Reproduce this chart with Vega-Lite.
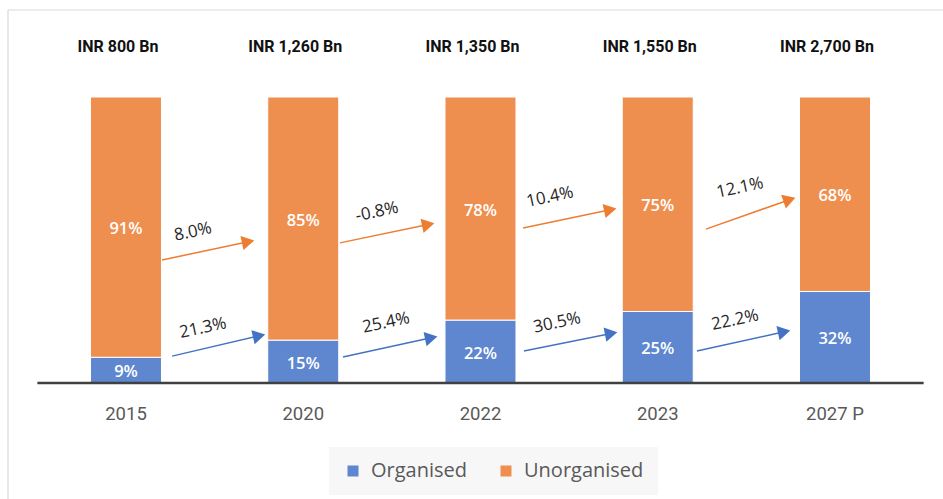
{
  "$schema": "https://vega.github.io/schema/vega-lite/v6.json",
  "width": 935,
  "height": 489,
  "autosize": {"type": "none"},
  "padding": {"left": 8, "top": 10, "right": 0, "bottom": 0},
  "background": "white",
  "config": {"view": {"stroke": null}, "font": "Open Sans"},
  "datasets": {
    "bars": [
      {"year": "2015", "idx": 0, "segment": "Organised", "ord": 1, "share": 0.09, "label": "9%"},
      {"year": "2015", "idx": 0, "segment": "Unorganised", "ord": 2, "share": 0.91, "label": "91%"},
      {"year": "2020", "idx": 1, "segment": "Organised", "ord": 1, "share": 0.15, "label": "15%"},
      {"year": "2020", "idx": 1, "segment": "Unorganised", "ord": 2, "share": 0.85, "label": "85%"},
      {"year": "2022", "idx": 2, "segment": "Organised", "ord": 1, "share": 0.22, "label": "22%"},
      {"year": "2022", "idx": 2, "segment": "Unorganised", "ord": 2, "share": 0.78, "label": "78%"},
      {"year": "2023", "idx": 3, "segment": "Organised", "ord": 1, "share": 0.25, "label": "25%"},
      {"year": "2023", "idx": 3, "segment": "Unorganised", "ord": 2, "share": 0.75, "label": "75%"},
      {"year": "2027  P", "idx": 4, "segment": "Organised", "ord": 1, "share": 0.32, "label": "32%"},
      {"year": "2027  P", "idx": 4, "segment": "Unorganised", "ord": 2, "share": 0.68, "label": "68%"}
    ],
    "years": [
      {"idx": 0, "year": "2015", "total": "INR 800 Bn", "full": 1, "base": 0},
      {"idx": 1, "year": "2020", "total": "INR 1,260 Bn", "full": 1, "base": 0},
      {"idx": 2, "year": "2022", "total": "INR 1,350 Bn", "full": 1, "base": 0},
      {"idx": 3, "year": "2023", "total": "INR 1,550 Bn", "full": 1, "base": 0},
      {"idx": 4, "year": "2027  P", "total": "INR 2,700 Bn", "full": 1, "base": 0}
    ],
    "guides": [
      {"gx0": -0.5, "gx1": 4.5, "gy": 0, "fx": -0.6657, "fy": 1.3042}
    ],
    "arrows": [
      {"series": "Unorganised", "x0": 0.203, "y0": 0.430, "x1": 0.689, "y1": 0.494, "dir": -12, "growth": "8.0%", "lx": 0.378, "ly": 0.528},
      {"series": "Unorganised", "x0": 1.207, "y0": 0.490, "x1": 1.705, "y1": 0.554, "dir": -12, "growth": "-0.8%", "lx": 1.416, "ly": 0.598},
      {"series": "Unorganised", "x0": 2.240, "y0": 0.542, "x1": 2.732, "y1": 0.606, "dir": -12, "growth": "10.4%", "lx": 2.392, "ly": 0.650},
      {"series": "Unorganised", "x0": 3.272, "y0": 0.538, "x1": 3.743, "y1": 0.641, "dir": -19, "growth": "12.1%", "lx": 3.464, "ly": 0.682},
      {"series": "Organised", "x0": 0.260, "y0": 0.094, "x1": 0.751, "y1": 0.165, "dir": -13, "growth": "21.3%", "lx": 0.434, "ly": 0.192},
      {"series": "Organised", "x0": 1.224, "y0": 0.091, "x1": 1.722, "y1": 0.158, "dir": -12, "growth": "25.4%", "lx": 1.467, "ly": 0.210},
      {"series": "Organised", "x0": 2.245, "y0": 0.112, "x1": 2.737, "y1": 0.173, "dir": -11, "growth": "30.5%", "lx": 2.432, "ly": 0.210},
      {"series": "Organised", "x0": 3.221, "y0": 0.112, "x1": 3.713, "y1": 0.179, "dir": -12.5, "growth": "22.2%", "lx": 3.436, "ly": 0.220}
    ]
  },
  "layer": [
    {
      "data": {"name": "guides"},
      "mark": {"type": "rule", "color": "#d9d9d9", "strokeWidth": 1.2},
      "encoding": {
        "y": {"field": "fy", "type": "quantitative", "axis": null, "scale": {"domain": [-0.4056, 1.3042], "nice": false, "zero": false, "padding": 0}}
      }
    },
    {
      "data": {"name": "guides"},
      "mark": {"type": "rule", "color": "#d9d9d9", "strokeWidth": 1.2},
      "encoding": {
        "x": {"field": "fx", "type": "quantitative", "axis": null, "scale": {"domain": [-0.6657, 4.6093], "nice": false, "zero": false, "padding": 0}}
      }
    },
    {
      "data": {"name": "bars"},
      "mark": {"type": "bar", "size": 71, "stroke": "white", "strokeWidth": 1},
      "encoding": {
        "x": {"field": "idx", "type": "quantitative", "axis": null, "scale": {"domain": [-0.6657, 4.6093], "nice": false, "zero": false, "padding": 0}},
        "y": {"field": "share", "type": "quantitative", "stack": "zero", "axis": null, "scale": {"domain": [-0.4056, 1.3042], "nice": false, "zero": false, "padding": 0}},
        "order": {"field": "ord", "type": "quantitative"},
        "color": {
          "field": "segment", "type": "nominal",
          "scale": {"domain": ["Organised", "Unorganised"], "range": ["#5E87CF", "#EF8F4F"]},
          "legend": {
            "orient": "none", "legendX": 321, "legendY": 437, "direction": "horizontal", "title": null,
            "symbolType": "square", "symbolSize": 121, "symbolStrokeWidth": 0,
            "labelFontSize": 20, "labelColor": "#595959", "labelFont": "Open Sans",
            "fillColor": "#f7f7f7", "padding": 14, "columnPadding": 28, "labelOffset": 8
          }
        }
      }
    },
    {
      "data": {"name": "bars"},
      "transform": [
        {"stack": "share", "groupby": ["idx"], "sort": [{"field": "ord"}], "as": ["s0", "s1"]},
        {"fold": ["s0", "s1"], "as": ["k", "v"]},
        {"aggregate": [{"op": "mean", "field": "v", "as": "mid"}], "groupby": ["idx", "label"]}
      ],
      "mark": {"type": "text", "color": "white", "fontSize": 16.5, "fontWeight": 600, "font": "Open Sans", "baseline": "middle", "dy": 2},
      "encoding": {
        "x": {"field": "idx", "type": "quantitative"},
        "y": {"field": "mid", "type": "quantitative"},
        "text": {"field": "label"}
      }
    },
    {
      "data": {"name": "guides"},
      "mark": {"type": "rule", "color": "#404040", "strokeWidth": 2.5},
      "encoding": {
        "x": {"field": "gx0", "type": "quantitative"},
        "x2": {"field": "gx1"},
        "y": {"field": "gy", "type": "quantitative"}
      }
    },
    {
      "data": {"name": "years"},
      "mark": {"type": "text", "color": "#595959", "fontSize": 18.5, "font": "Roboto", "baseline": "middle", "dy": 31},
      "encoding": {
        "x": {"field": "idx", "type": "quantitative"},
        "y": {"field": "base", "type": "quantitative"},
        "text": {"field": "year"}
      }
    },
    {
      "data": {"name": "years"},
      "mark": {"type": "text", "color": "#111111", "fontSize": 16, "fontWeight": "bold", "font": "Roboto", "baseline": "middle", "dx": -8, "dy": -50},
      "encoding": {
        "x": {"field": "idx", "type": "quantitative"},
        "y": {"field": "full", "type": "quantitative"},
        "text": {"field": "total"}
      }
    },
    {
      "data": {"name": "arrows"},
      "transform": [{"filter": "datum.series == 'Unorganised'"}],
      "mark": {"type": "rule", "color": "#ED7D31", "strokeWidth": 1.5},
      "encoding": {
        "x": {"field": "x0", "type": "quantitative"},
        "y": {"field": "y0", "type": "quantitative"},
        "x2": {"field": "x1"},
        "y2": {"field": "y1"}
      }
    },
    {
      "data": {"name": "arrows"},
      "transform": [{"filter": "datum.series == 'Organised'"}],
      "mark": {"type": "rule", "color": "#4472C4", "strokeWidth": 1.5},
      "encoding": {
        "x": {"field": "x0", "type": "quantitative"},
        "y": {"field": "y0", "type": "quantitative"},
        "x2": {"field": "x1"},
        "y2": {"field": "y1"}
      }
    },
    {
      "data": {"name": "arrows"},
      "transform": [{"filter": "datum.series == 'Unorganised'"}],
      "mark": {"type": "point", "shape": "triangle-right", "filled": true, "color": "#ED7D31", "size": 210, "opacity": 1},
      "encoding": {
        "x": {"field": "x1", "type": "quantitative"},
        "y": {"field": "y1", "type": "quantitative"},
        "angle": {"field": "dir", "type": "quantitative", "scale": null}
      }
    },
    {
      "data": {"name": "arrows"},
      "transform": [{"filter": "datum.series == 'Organised'"}],
      "mark": {"type": "point", "shape": "triangle-right", "filled": true, "color": "#4472C4", "size": 210, "opacity": 1},
      "encoding": {
        "x": {"field": "x1", "type": "quantitative"},
        "y": {"field": "y1", "type": "quantitative"},
        "angle": {"field": "dir", "type": "quantitative", "scale": null}
      }
    },
    {
      "data": {"name": "arrows"},
      "mark": {"type": "text", "color": "#262626", "fontSize": 17, "font": "Open Sans", "angle": -12, "baseline": "middle"},
      "encoding": {
        "x": {"field": "lx", "type": "quantitative"},
        "y": {"field": "ly", "type": "quantitative"},
        "text": {"field": "growth"}
      }
    }
  ]
}
